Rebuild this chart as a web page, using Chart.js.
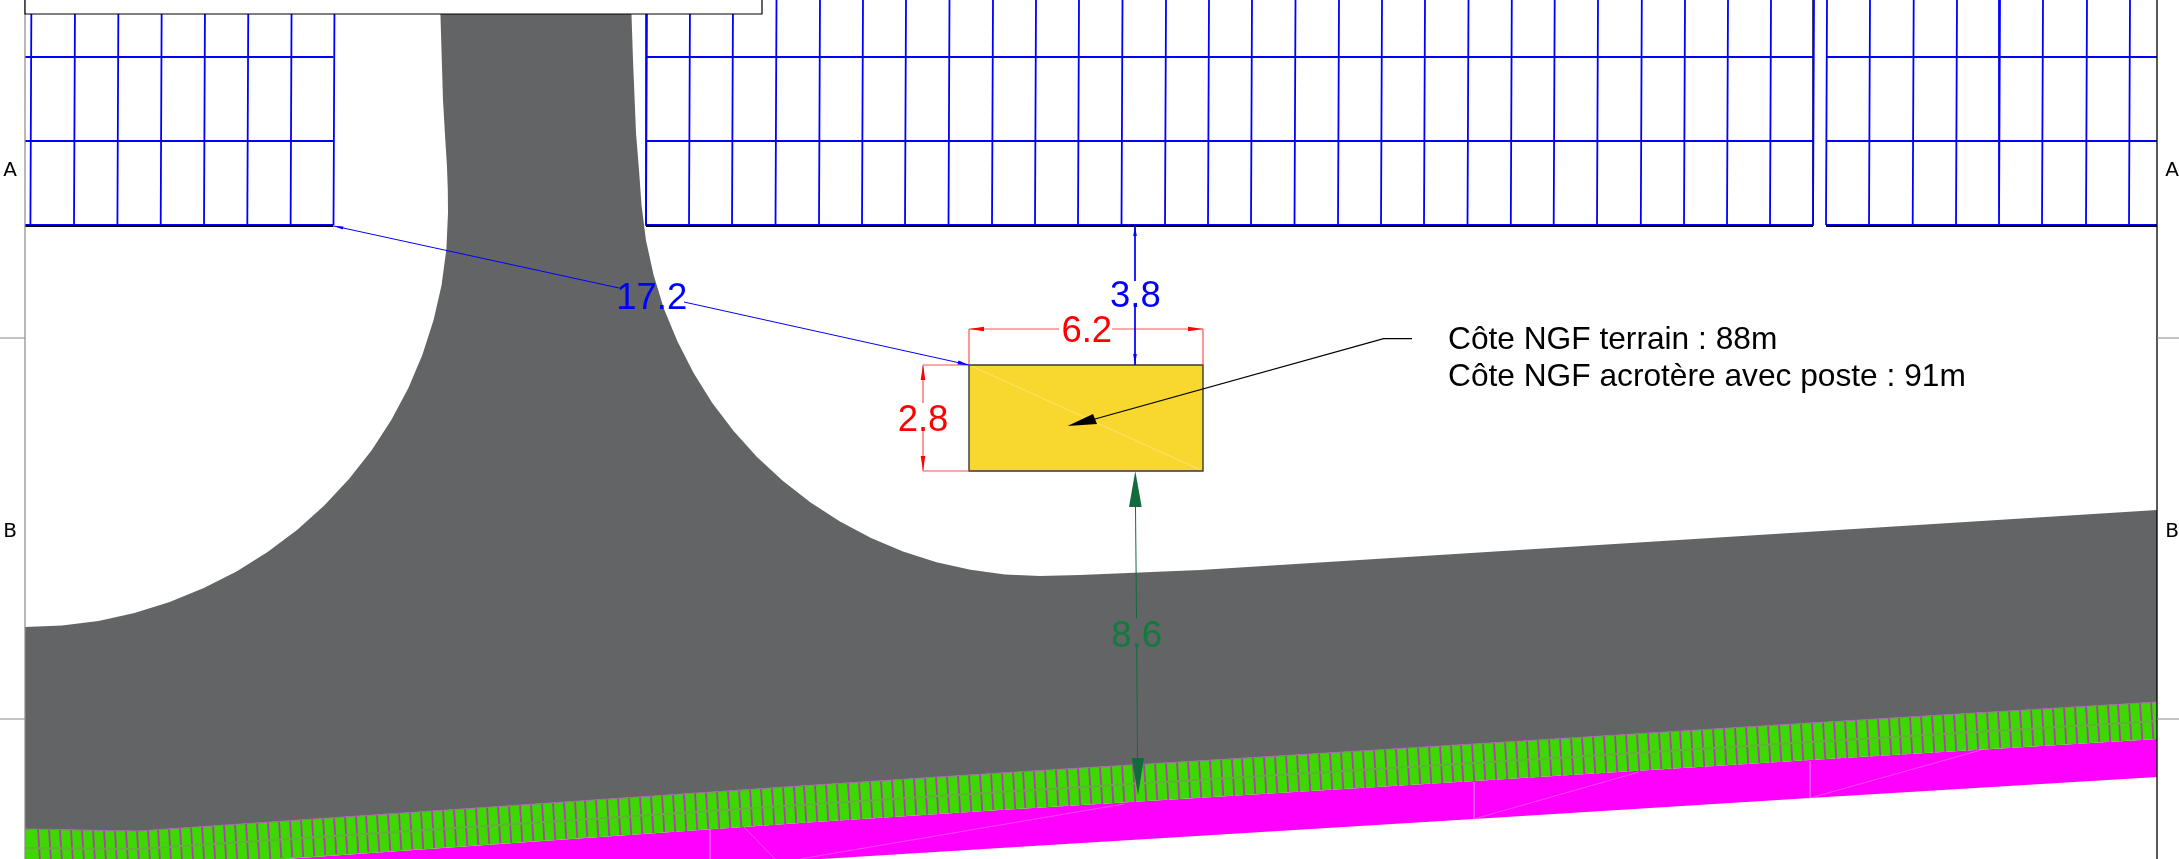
<!DOCTYPE html>
<html>
<head>
<meta charset="utf-8">
<title>Poste - plan de masse</title>
<script src="https://cdn.jsdelivr.net/npm/chart.js@4/dist/chart.umd.min.js"></script>
<style>
    html, body { margin: 0; padding: 0; background: #fff; overflow: hidden; }
    canvas { display: block; }
</style>
</head>
<body>
<canvas id="plan" width="2179" height="859"></canvas>
<script>
// all values are plan units, x to the right, y downwards
const planWidth = 2179;
const planHeight = 859;

const roadLeftEdge = [[440, 0], [441.5, 50], [443, 100], [445, 135], [447, 167], [447.8, 190], [448, 213], [446.4, 249], [441.6, 285], [433.6, 320], [422.5, 354.6], [408.4, 388], [391.3, 420], [371.5, 450.5], [349, 479], [324, 505.7], [297, 530], [267.6, 552], [236.5, 571.5], [203.8, 588], [169.7, 602], [134.5, 613], [98.5, 621], [62, 625.4], [25, 627]];
const roadBottomEdge = [[25, 829], [138, 831], [800, 786], [1000, 773], [1474, 744], [1810, 723], [2157, 702]];
const roadRightEdge = [[2157, 510], [1200, 570], [1080, 575], [1040, 576], [1005, 574.5], [970.5, 569.8], [936.5, 562.2], [903, 551.5], [871, 538], [840, 521.6], [810.6, 502.6], [783, 481], [757, 457], [733.6, 431], [712.3, 403], [693.6, 373], [677.5, 341.6], [664, 309], [653.6, 275], [646, 240.5], [641.5, 205], [639, 170], [636, 133], [633, 60], [631, 0]];

const greenBandLower = [[2157, 739], [1810, 760], [1474, 781], [1000, 810], [800, 823], [285, 859], [25, 859]];
const greenBandMiddle = [[25, 848], [138, 849], [800, 805], [1000, 792], [1474, 763], [1810, 742], [2157, 721]];
const magentaLower = [[821, 859], [1000, 848], [1474, 819], [1810, 798], [2157, 777]];
const magentaUpper = [[2157, 739], [1810, 760], [1474, 781], [1000, 810], [800, 823], [285, 859]];
const magentaSeams = [[800, 859], [1000, 825], [1124, 804], null, [1474, 819], [1639, 772], null, [1810, 798], [1981, 750], null, [1474, 782], [1474, 819], null, [1810, 761], [1810, 798], null, [744, 827], [775, 859], null, [710, 830], [710, 859]];

const stripeX = [38, 49, 60, 71, 82, 93, 104, 115, 126, 137, 148, 158, 169, 180, 191, 202, 213, 224, 235, 246,
    257, 268, 279, 290, 301, 312, 323, 334, 345, 356, 366, 377, 388, 399, 410, 421, 432, 443, 454, 465,
    476, 487, 498, 509, 520, 531, 542, 553, 564, 575, 585, 596, 607, 618, 629, 640, 651, 662, 673, 684,
    695, 706, 717, 728, 739, 750, 761, 772, 783, 794, 804, 815, 826, 837, 848, 859, 870, 881, 892, 903,
    914, 925, 936, 947, 958, 969, 980, 991, 1002, 1013, 1023, 1034, 1045, 1056, 1067, 1078, 1089, 1100, 1111, 1122,
    1133, 1144, 1155, 1166, 1177, 1188, 1199, 1210, 1221, 1232, 1242, 1253, 1264, 1275, 1286, 1297, 1308, 1319, 1330, 1341,
    1352, 1363, 1374, 1385, 1396, 1407, 1418, 1429, 1440, 1451, 1461, 1472, 1483, 1494, 1505, 1516, 1527, 1538, 1549, 1560,
    1571, 1582, 1593, 1604, 1615, 1626, 1637, 1648, 1659, 1670, 1680, 1691, 1702, 1713, 1724, 1735, 1746, 1757, 1768, 1779,
    1790, 1801, 1812, 1823, 1834, 1845, 1856, 1867, 1878, 1889, 1899, 1910, 1921, 1932, 1943, 1954, 1965, 1976, 1987, 1998,
    2009, 2020, 2031, 2042, 2053, 2064, 2075, 2086, 2097, 2108, 2118, 2129, 2140, 2151];
const stripeTop = [829, 829, 830, 830, 830, 830, 830, 831, 831, 831, 830, 829, 829, 828, 827, 826, 826, 825, 824, 823,
    823, 822, 821, 820, 820, 819, 818, 817, 817, 816, 815, 815, 814, 813, 812, 812, 811, 810, 809, 809,
    808, 807, 806, 806, 805, 804, 803, 803, 802, 801, 800, 800, 799, 798, 798, 797, 796, 795, 795, 794,
    793, 792, 792, 791, 790, 789, 789, 788, 787, 786, 786, 785, 784, 784, 783, 782, 781, 781, 780, 779,
    778, 778, 777, 776, 776, 775, 774, 773, 773, 772, 771, 771, 770, 769, 769, 768, 767, 767, 766, 765,
    765, 764, 763, 763, 762, 761, 761, 760, 759, 759, 758, 757, 757, 756, 755, 755, 754, 753, 753, 752,
    751, 751, 750, 749, 749, 748, 747, 747, 746, 745, 745, 744, 743, 743, 742, 741, 741, 740, 739, 739,
    738, 737, 737, 736, 735, 735, 734, 733, 732, 732, 731, 730, 730, 729, 728, 728, 727, 726, 726, 725,
    724, 724, 723, 722, 722, 721, 720, 720, 719, 718, 718, 717, 716, 716, 715, 714, 714, 713, 712, 711,
    711, 710, 709, 709, 708, 707, 707, 706, 705, 705, 704, 703, 703, 702];
const stripeDepth = 37;

const panelColumnsLeft = [30.4, 74, 117.4, 160.7, 204, 247.3, 290.6, 333.5];
const panelColumnsMiddle = [646, 689, 732, 775.5, 819, 862, 905, 948.5, 992, 1035, 1078, 1121.5, 1165, 1208, 1251, 1294.5, 1338, 1381, 1424, 1467.5, 1510.8, 1553.7, 1597, 1640.8, 1684, 1727, 1770, 1813];
const panelColumnsRight = [1826, 1869, 1912.7, 1956, 1999, 2042, 2086, 2129];
const panelRows = [57, 141];
const panelSpans = [[25, 333.5], [646, 1813], [1826, 2157]];
const panelBottom = 225;

const posteOutline = [[969, 365], [1203, 365], [1203, 471], [969, 471]];
const posteDiagonal = [[969, 365], [1203, 471]];

const widthDimension = [[969, 329], [1059, 329], null, [1112, 329], [1203, 329], null, [969, 329], [969, 365], null, [1203, 329], [1203, 365]];
const widthArrowLeft = [[969, 329], [984, 326.7], [984, 331.3]];
const widthArrowRight = [[1203, 329], [1188, 326.7], [1188, 331.3]];
const heightDimension = [[923, 365], [923, 403], null, [923, 431], [923, 471], null, [923, 365], [969, 365], null, [923, 471], [969, 471]];
const heightArrowTop = [[923, 365], [920.7, 380], [925.3, 380]];
const heightArrowBottom = [[923, 471], [920.7, 456], [925.3, 456]];

const northDimension = [[1135, 226], [1135, 281], null, [1135, 307], [1135, 365]];
const northArrowTop = [[1135, 226], [1133.2, 236], [1136.8, 236]];
const northArrowBottom = [[1135, 365], [1133.2, 354], [1136.8, 354]];
const panelDistance = [[334, 226], [619, 288], null, [684, 302], [969, 365]];
const panelArrowLeft = [[334, 226], [343.5, 226.5], [342.5, 229.5]];
const panelArrowRight = [[969, 365], [958.5, 360.6], [957.5, 364.6]];

const roadDistance = [[1135.5, 507], [1136.5, 618], null, [1136.7, 646], [1137.5, 758]];
const roadArrowTop = [[1135.3, 471], [1129, 507], [1141.7, 507]];
const roadArrowBottom = [[1138, 795], [1131.7, 758], [1144, 758]];

const leaderLine = [[1412, 338.7], [1383.6, 338.7], [1095, 419]];
const leaderArrow = [[1067.5, 426], [1093, 414], [1097, 424]];

const frameLeft = [[25, 0], [25, 859], null, [0, 338], [25, 338], null, [0, 719], [25, 719]];
const frameRight = [[2157, 0], [2157, 859]];
const frameRightTicks = [[2157, 338], [2179, 338], null, [2157, 719], [2179, 719]];
const titleBox = [[25, -5], [762, -5], [762, 14], [25, 14]];

const dimensionTexts = ['17.2', '3.8', '6.2', '2.8', '8.6'];
const dimensionTextX = [651.7, 1135.4, 1086.8, 923, 1136.7];
const dimensionTextY = [309.3, 306.7, 341.7, 431, 646.7];
const dimensionTextColors = ['#0000ff', '#0000ff', '#ff0000', '#ff0000', '#137a3e'];

const noteTexts = ['Côte NGF terrain : 88m', 'Côte NGF acrotère avec poste : 91m'];
const noteTextX = 1448;
const noteTextY = [349, 386];

const frameTexts = ['A', 'A', 'B', 'B'];
const frameTextX = [10, 2172, 10, 2172];
const frameTextY = [176, 176, 537, 537];

function toPoints(pairs) {
    return pairs.map(p => p === null ? { x: 0, y: null } : { x: p[0], y: p[1] });
}

function stroke(pairs, color, width) {
    return {
        data: toPoints(pairs), showLine: true, fill: false, pointRadius: 0,
        borderColor: color, borderWidth: width
    };
}

function solid(pairs, color) {
    return {
        data: toPoints(pairs), showLine: true, fill: 'shape', pointRadius: 0,
        backgroundColor: color, borderColor: color, borderWidth: 0
    };
}

function closed(pairs) {
    return pairs.concat([pairs[0]]);
}

const stripeLines = stripeX.flatMap((x, i) => [[x, stripeTop[i]], [x + 2.3, stripeTop[i] + stripeDepth], null]);

const columnLines = panelColumnsLeft.concat(panelColumnsMiddle, panelColumnsRight)
    .flatMap(x => [[x + 1, 0], [x, panelBottom], null]);
const rowLines = panelRows.flatMap(y => panelSpans.flatMap(s => [[s[0], y], [s[1], y], null]));
const bottomLines = panelSpans.flatMap(s => [[s[0], panelBottom + 1], [s[1], panelBottom + 1], null]);
const bottomBlueLines = panelSpans.flatMap(s => [[s[0], panelBottom - 0.5], [s[1], panelBottom - 0.5], null]);
const panelEdges = [[646, 0], [646, 226], null, [1813, 0], [1813, 226]];

const red = '#ff0000';
const blue = '#0000ff';
const darkGreen = '#126b3c';

// painted in this order, reversed below since chart.js draws the first dataset last
const layers = [
    solid(roadLeftEdge.concat(roadBottomEdge, roadRightEdge), '#636466'),
    solid(magentaLower.concat(magentaUpper), '#ff00ff'),
    stroke(magentaSeams, '#ff66ff', 0.7),
    solid(roadBottomEdge.concat(greenBandLower), '#3cd800'),
    stroke(stripeLines, '#b13cb4', 1.8),
    stroke(greenBandMiddle, '#62b03a', 2),
    stroke(roadBottomEdge, '#a26aa6', 1),
    stroke(bottomLines, '#000000', 2),
    stroke(panelEdges, '#101040', 1.6),
    stroke(columnLines, blue, 1.8),
    stroke(rowLines, blue, 2.2),
    stroke(bottomBlueLines, blue, 1.2),
    stroke(frameLeft, '#8a8a8a', 1.2),
    stroke(frameRight, '#000000', 1.3),
    stroke(frameRightTicks, '#8a8a8a', 1.2),
    solid(titleBox, '#ffffff'),
    stroke(closed(titleBox), '#000000', 1.2),
    solid(posteOutline, '#f8d72f'),
    stroke(posteDiagonal, '#fbe98a', 0.7),
    stroke(closed(posteOutline), '#3a3a30', 1.4),
    stroke(widthDimension, '#ff5050', 1.2),
    solid(widthArrowLeft, red),
    solid(widthArrowRight, red),
    stroke(heightDimension, '#ff5050', 1.2),
    solid(heightArrowTop, red),
    solid(heightArrowBottom, red),
    stroke(northDimension, blue, 1),
    solid(northArrowTop, blue),
    solid(northArrowBottom, blue),
    stroke(panelDistance, blue, 1),
    solid(panelArrowLeft, blue),
    solid(panelArrowRight, blue),
    stroke(roadDistance, darkGreen, 1),
    solid(roadArrowTop, darkGreen),
    solid(roadArrowBottom, darkGreen),
    stroke(leaderLine, '#000000', 1.2),
    solid(leaderArrow, '#000000')
];

const planTexts = {
    id: 'planTexts',
    afterDatasetsDraw(chart) {
        const ctx = chart.ctx;
        const x = chart.scales.x;
        const y = chart.scales.y;
        ctx.save();
        ctx.textBaseline = 'alphabetic';
        ctx.textAlign = 'center';
        ctx.font = '36.5px "Liberation Sans"';
        dimensionTexts.forEach((t, i) => {
            ctx.fillStyle = dimensionTextColors[i];
            ctx.fillText(t, x.getPixelForValue(dimensionTextX[i]), y.getPixelForValue(dimensionTextY[i]));
        });
        ctx.fillStyle = '#000000';
        ctx.font = '20px "DejaVu Sans"';
        frameTexts.forEach((t, i) => {
            ctx.fillText(t, x.getPixelForValue(frameTextX[i]), y.getPixelForValue(frameTextY[i]));
        });
        ctx.textAlign = 'left';
        ctx.font = '31.7px "Liberation Sans"';
        noteTexts.forEach((t, i) => {
            ctx.fillText(t, x.getPixelForValue(noteTextX), y.getPixelForValue(noteTextY[i]));
        });
        ctx.restore();
    }
};

document.addEventListener('DOMContentLoaded', function () {
    let ctx = document.getElementById('plan').getContext('2d');
    new Chart(ctx, {
        type: 'scatter',
        data: { datasets: layers.slice().reverse() },
        options: {
            responsive: false,
            animation: false,
            devicePixelRatio: 1,
            layout: { padding: 0 },
            plugins: { legend: { display: false }, tooltip: { enabled: false } },
            scales: {
                x: { type: 'linear', display: false, min: 0, max: planWidth },
                y: { type: 'linear', display: false, min: 0, max: planHeight, reverse: true }
            }
        },
        plugins: [planTexts]
    });
});
</script>
</body>
</html>
